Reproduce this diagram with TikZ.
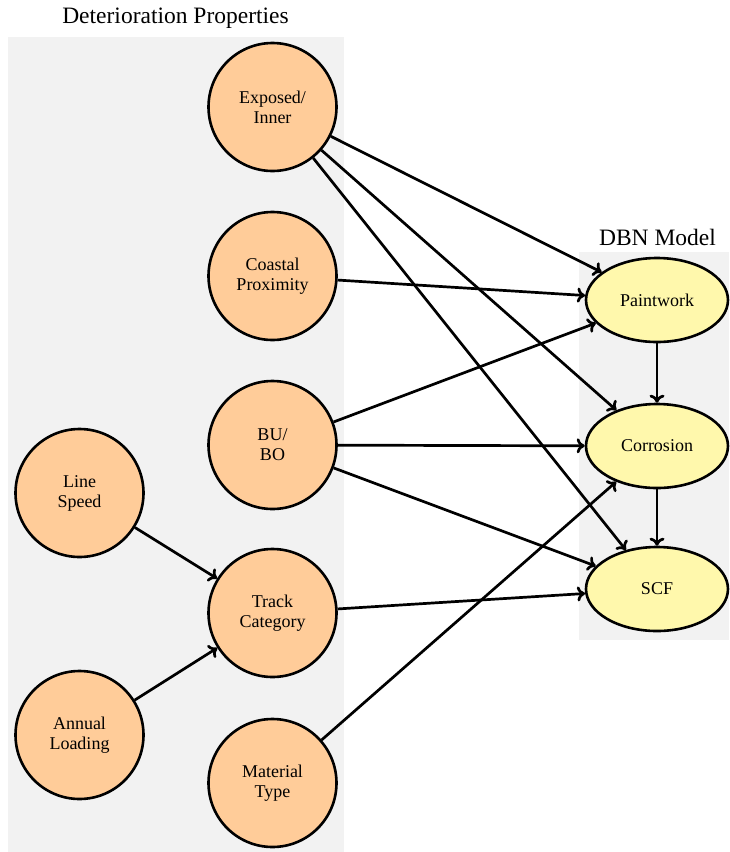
\documentclass[tikz,border=0pt]{standalone}
\usepackage{fontspec}
\setmainfont{Liberation Serif}
\usetikzlibrary{shapes.geometric,arrows.meta}
\definecolor{nodeorange}{RGB}{255,204,153}
\definecolor{nodeyellow}{RGB}{255,248,172}
\definecolor{bggray}{RGB}{242,242,242}
\begin{document}
\begin{tikzpicture}[x=1pt,y=1pt,
  prop/.style={circle,draw=black,line width=2.6pt,fill=nodeorange,minimum size=128pt,inner sep=0pt,align=center,font=\fontsize{18}{20}\selectfont},
  dbn/.style={ellipse,draw=black,line width=2.6pt,fill=nodeyellow,minimum width=142pt,minimum height=84pt,inner sep=0pt,align=center,font=\fontsize{18}{20}\selectfont},
  conn/.style={line width=2.7pt,-{Computer Modern Rightarrow[length=8pt,width=15pt]}},
  grouptitle/.style={font=\fontsize{23.5}{26}\selectfont,inner sep=0pt}]
\useasboundingbox (0,0) rectangle (729,-852);
\fill[bggray] (8,-37) rectangle (344,-852);
\fill[bggray] (579,-252) rectangle (729,-640);
\node[grouptitle] (t1) at (175.5,-18) {Deterioration Properties};
\node[grouptitle] (t2) at (657.5,-237) {DBN Model};

\node[prop] (exp) at (272.5,-107) {Exposed/\\Inner};
\node[prop] (coast) at (272.5,-276) {Coastal\\Proximity};
\node[prop] (bubo) at (272.5,-445) {BU/\\BO};
\node[prop] (line) at (79.5,-493) {Line\\Speed};
\node[prop] (track) at (272.5,-613) {Track\\Category};
\node[prop] (annual) at (79.5,-735) {Annual\\Loading};
\node[prop] (mat) at (272.5,-783) {Material\\Type};

\node[dbn] (paint) at (657,-300) {Paintwork};
\node[dbn] (corr) at (657,-446) {Corrosion};
\node[dbn] (scf) at (657,-589) {SCF};

\draw[conn] (exp) -- (paint);
\draw[conn] (exp) -- (corr);
\draw[conn] (exp) -- (scf);
\draw[conn] (coast) -- (paint);
\draw[conn] (bubo) -- (paint);
\draw[conn] (bubo) -- (corr);
\draw[conn] (bubo) -- (scf);
\draw[conn] (line) -- (track);
\draw[conn] (annual) -- (track);
\draw[conn] (track) -- (scf);
\draw[conn] (mat) -- (corr);
\draw[conn] (paint) -- (corr);
\draw[conn] (corr) -- (scf);
\end{tikzpicture}
\end{document}
